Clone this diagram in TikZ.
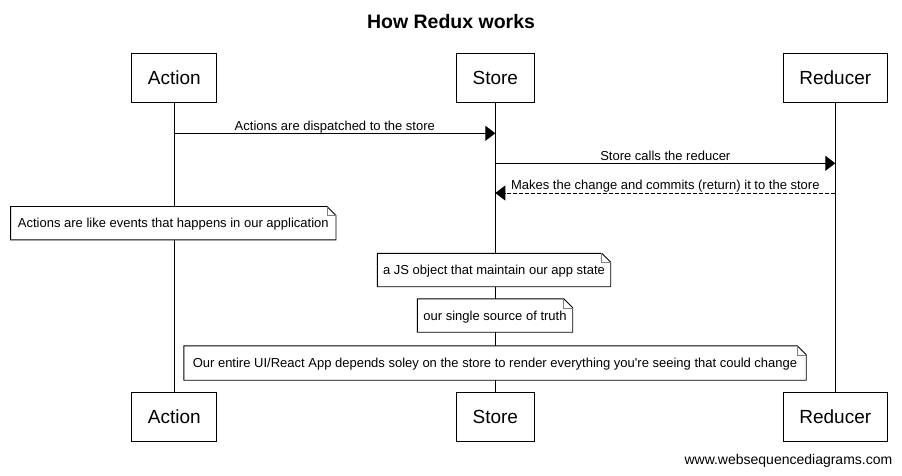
\documentclass[tikz,border=0pt]{standalone}
\usepackage{fontspec}
\newfontfamily\lib{Liberation Sans}
\usetikzlibrary{arrows.meta}
\newcommand\notefold[1]{%
  \draw[line width=0.9pt] (#1.south west) -- (#1.north west) -- ([xshift=-9pt]#1.north east) -- ([yshift=-9pt]#1.north east) -- (#1.south east) -- cycle;
  \draw[gray, line width=0.5pt] ([xshift=-9pt]#1.north east) -- ([xshift=-9pt,yshift=-9pt]#1.north east) -- ([yshift=-9pt]#1.north east);}
\begin{document}
\begin{tikzpicture}[x=1pt,y=-1pt,
 part/.style={draw, line width=0.9pt, fill=white, minimum height=49pt, inner sep=0pt, font=\lib\fontsize{19}{22}\selectfont},
 life/.style={line width=0.9pt},
 msg/.style={line width=0.9pt, -{Triangle[length=10pt,width=15pt]}},
 reply/.style={msg, dash pattern=on 4pt off 2pt},
 lbl/.style={font=\lib\fontsize{13}{15}\selectfont, anchor=base, inner sep=0pt},
 notebox/.style={fill=white, inner sep=0pt, minimum height=33pt, text depth=0pt, font=\lib\fontsize{13}{15}\selectfont},
 title/.style={font=\lib\bfseries\fontsize{19.5}{22}\selectfont, inner sep=0pt},
 footer/.style={font=\lib\fontsize{14}{16}\selectfont, inner sep=0pt, anchor=east},
]
\fill[white] (0,0) rectangle (902,475);
\useasboundingbox (0,0) rectangle (902,475);

\node[title] (title) at (451,22) {How Redux works};

% participants
\node[part, minimum width=85pt]  (aT) at (174.3,78) {Action};
\node[part, minimum width=78pt]  (sT) at (495.3,78) {Store};
\node[part, minimum width=104pt] (rT) at (835.3,78) {Reducer};
\node[part, minimum width=85pt]  (aB) at (174.3,417) {Action};
\node[part, minimum width=78pt]  (sB) at (495.3,417) {Store};
\node[part, minimum width=104pt] (rB) at (835.3,417) {Reducer};

% lifelines
\draw[life] (aT.south) -- (aB.north);
\draw[life] (sT.south) -- (sB.north);
\draw[life] (rT.south) -- (rB.north);

% messages
\coordinate (y1) at (0,133.3);
\coordinate (y2) at (0,163.3);
\coordinate (y3) at (0,193);
\draw[msg] (aT.south |- y1) -- (sT.south |- y1)
  node[lbl, midway, yshift=3pt] {Actions are dispatched to the store};
\draw[msg] (sT.south |- y2) -- (rT.south |- y2)
  node[lbl, midway, yshift=3pt] {Store calls the reducer};
\draw[reply] (rT.south |- y3) -- (sT.south |- y3)
  node[lbl, midway, yshift=4pt] {Makes the change and commits (return) it to the store};

% notes
\node[notebox, minimum width=325pt] (n1) at (173.3,223.2) {Actions are like events that happens in our application};
\notefold{n1}
\node[notebox, minimum width=233pt] (n2) at (494,270) {a JS object that maintain our app state};
\notefold{n2}
\node[notebox, minimum width=155pt] (n3) at (495,315.5) {our single source of truth};
\notefold{n3}
\node[notebox, minimum width=622pt, minimum height=34pt] (n4) at (495,363) {Our entire UI/React App depends soley on the store to render everything you're seeing that could change};
\notefold{n4}

\node[footer] (foot) at (892.5,461) {www.websequencediagrams.com};
\end{tikzpicture}
\end{document}
